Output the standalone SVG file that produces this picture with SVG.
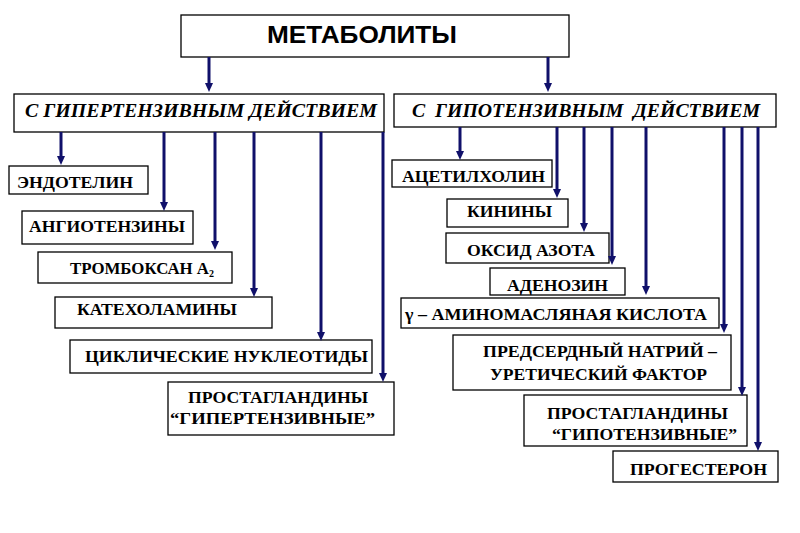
<svg xmlns="http://www.w3.org/2000/svg" width="800" height="533" viewBox="0 0 800 533">
<defs>
<marker id="ah" markerUnits="userSpaceOnUse" markerWidth="9" markerHeight="8" viewBox="0 0 9 8" refX="3" refY="4" orient="auto">
<path d="M0,0 L9,4 L0,8 z" fill="#10106a"/>
</marker>
<style>
.box{fill:#fff;stroke:#000;stroke-width:1.3}
.t{font-family:"Liberation Serif","Times New Roman",serif;font-weight:bold;font-size:16px;fill:#000}
.h{font-family:"Liberation Serif","Times New Roman",serif;font-weight:bold;font-style:italic;font-size:18px;fill:#000}
.m{font-family:"Liberation Sans",Arial,sans-serif;font-weight:bold;font-size:24px;fill:#000}
.c line{stroke:#10106a;stroke-width:3;marker-end:url(#ah)}
</style>
</defs>
<rect width="800" height="533" fill="#fff"/>

<g id="metabolity"><rect class="box" x="181" y="15" width="388" height="42"/><text class="m" x="267" y="43" textLength="190" lengthAdjust="spacingAndGlyphs">МЕТАБОЛИТЫ</text></g>

<g id="hyper"><rect class="box" x="14" y="94" width="370" height="38"/><text class="h" x="25" y="117" textLength="352" lengthAdjust="spacingAndGlyphs">С ГИПЕРТЕНЗИВНЫМ ДЕЙСТВИЕМ</text></g>
<g id="hypo"><rect class="box" x="394" y="94" width="382" height="33"/><text class="h" x="412" y="117" textLength="348" lengthAdjust="spacingAndGlyphs" xml:space="preserve">С  ГИПОТЕНЗИВНЫМ  ДЕЙСТВИЕМ</text></g>

<g id="endotelin"><rect class="box" x="9" y="166" width="139" height="28"/><text class="t" x="17" y="188" textLength="116" lengthAdjust="spacingAndGlyphs">ЭНДОТЕЛИН</text></g>
<g id="angiotenziny"><rect class="box" x="22" y="211" width="171" height="33"/><text class="t" x="29" y="232" textLength="156" lengthAdjust="spacingAndGlyphs">АНГИОТЕНЗИНЫ</text></g>
<g id="tromboksan"><rect class="box" x="38" y="252" width="194" height="31"/><text class="t" x="70" y="274"><tspan textLength="139" lengthAdjust="spacingAndGlyphs">ТРОМБОКСАН А</tspan><tspan font-size="10" dy="3">2</tspan></text></g>
<g id="katekholaminy"><rect class="box" x="55" y="297" width="217" height="31"/><text class="t" x="77" y="315" textLength="160" lengthAdjust="spacingAndGlyphs">КАТЕХОЛАМИНЫ</text></g>
<g id="tsiklicheskie"><rect class="box" x="70" y="340" width="302" height="33"/><text class="t" x="85" y="362" textLength="283" lengthAdjust="spacingAndGlyphs">ЦИКЛИЧЕСКИЕ НУКЛЕОТИДЫ</text></g>
<g id="prostaglandiny-hyper"><rect class="box" x="168" y="382" width="226" height="53"/><text class="t" x="188" y="403" textLength="180" lengthAdjust="spacingAndGlyphs">ПРОСТАГЛАНДИНЫ</text><text class="t" x="170" y="424" textLength="205" lengthAdjust="spacingAndGlyphs">“ГИПЕРТЕНЗИВНЫЕ”</text></g>

<g id="atsetilkholin"><rect class="box" x="392" y="160" width="160" height="27"/><text class="t" x="402" y="182" textLength="143" lengthAdjust="spacingAndGlyphs">АЦЕТИЛХОЛИН</text></g>
<g id="kininy"><rect class="box" x="447" y="199" width="121" height="28"/><text class="t" x="467" y="217" textLength="85" lengthAdjust="spacingAndGlyphs">КИНИНЫ</text></g>
<g id="oksid"><rect class="box" x="446" y="233" width="163" height="30"/><text class="t" x="467" y="256" textLength="128" lengthAdjust="spacingAndGlyphs">ОКСИД АЗОТА</text></g>
<g id="adenozin"><rect class="box" x="490" y="268" width="135" height="27"/><text class="t" x="507" y="291" textLength="101" lengthAdjust="spacingAndGlyphs">АДЕНОЗИН</text></g>
<g id="gamk"><rect class="box" x="401" y="298" width="318" height="30"/><text class="t" x="405" y="320" textLength="302" lengthAdjust="spacingAndGlyphs">γ – АМИНОМАСЛЯНАЯ КИСЛОТА</text></g>
<g id="natriy"><rect class="box" x="453" y="335" width="278" height="55"/><text class="t" x="483" y="357" textLength="234" lengthAdjust="spacingAndGlyphs">ПРЕДСЕРДНЫЙ НАТРИЙ –</text><text class="t" x="490" y="380" textLength="217" lengthAdjust="spacingAndGlyphs">УРЕТИЧЕСКИЙ ФАКТОР</text></g>
<g id="prostaglandiny-hypo"><rect class="box" x="524" y="395" width="223" height="51"/><text class="t" x="547" y="419" textLength="181" lengthAdjust="spacingAndGlyphs">ПРОСТАГЛАНДИНЫ</text><text class="t" x="552" y="440" textLength="185" lengthAdjust="spacingAndGlyphs">“ГИПОТЕНЗИВНЫЕ”</text></g>
<g id="progesteron"><rect class="box" x="613" y="451" width="165" height="31"/><text class="t" x="630" y="475" textLength="137" lengthAdjust="spacingAndGlyphs">ПРОГЕСТЕРОН</text></g>

<g id="connectors" class="c">
<line x1="209" y1="57" x2="209" y2="86"/>
<line x1="548" y1="57" x2="548" y2="86"/>
<line x1="61" y1="132" x2="61" y2="159"/>
<line x1="164" y1="132" x2="164" y2="205"/>
<line x1="215" y1="132" x2="215" y2="244"/>
<line x1="254" y1="132" x2="254" y2="291"/>
<line x1="321" y1="132" x2="321" y2="335"/>
<line x1="383" y1="132" x2="383" y2="376"/>
<line x1="460" y1="127" x2="460" y2="154"/>
<line x1="557" y1="127" x2="557" y2="192"/>
<line x1="584" y1="127" x2="584" y2="226"/>
<line x1="612" y1="127" x2="612" y2="259"/>
<line x1="646" y1="127" x2="646" y2="289"/>
<line x1="724" y1="127" x2="724" y2="327"/>
<line x1="742" y1="127" x2="742" y2="390"/>
<line x1="758" y1="127" x2="758" y2="445"/>
</g>
</svg>
